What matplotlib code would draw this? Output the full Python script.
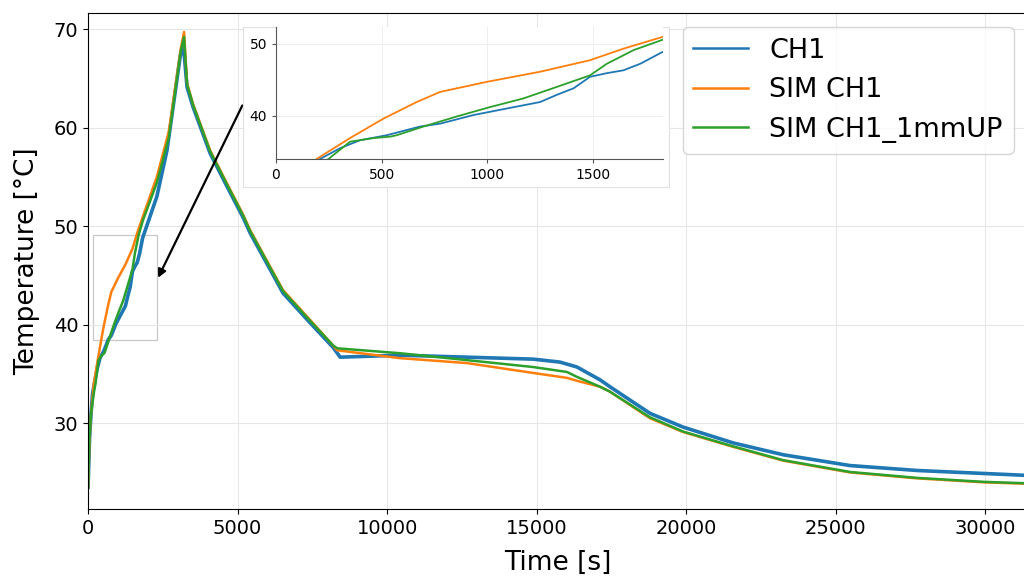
import matplotlib
matplotlib.use("Agg")
import matplotlib.pyplot as plt
from matplotlib.patches import Rectangle

# measured channel CH1
t_ch1 = [0, 50, 100, 150, 208, 303, 397, 524, 681, 776, 934, 1091, 1249, 1328,
         1407, 1485, 1564, 1643, 1722, 1825, 2300, 2640, 3080, 3180, 3310, 3510,
         4080, 4650, 5180, 5420, 6520, 7420, 8190, 8430, 10430, 12670, 14880,
         15780, 16350, 17120, 17450, 18790, 19900, 21570, 23240, 25480, 27720,
         29930, 31400]
T_ch1 = [23.5, 28.5, 31.0, 33.0, 34.0, 35.5, 36.6, 37.3, 38.5, 38.9, 40.1, 41.0,
         41.9, 42.9, 43.8, 45.4, 45.9, 46.3, 47.2, 48.8, 53.0, 57.7, 67.2, 68.6,
         64.1, 62.1, 57.4, 54.0, 50.9, 49.3, 43.2, 40.2, 37.7, 36.7, 36.9, 36.7,
         36.5, 36.2, 35.7, 34.4, 33.7, 31.0, 29.6, 28.0, 26.8, 25.7, 25.2, 24.9,
         24.7]

# simulation at CH1
t_sim = [0, 50, 100, 192, 350, 508, 665, 776, 997, 1249, 1485, 1643, 1825, 2300,
         2700, 3100, 3210, 3310, 3510, 4080, 4650, 5180, 5420, 6520, 7420, 8190,
         8330, 10430, 12670, 14880, 16010, 16350, 17120, 17450, 18790, 19900,
         21570, 23240, 25480, 27720, 29930, 31400]
T_sim = [23.5, 28.5, 31.0, 34.0, 36.9, 39.6, 41.9, 43.3, 44.7, 46.1, 47.7, 49.3,
         50.9, 55.0, 59.6, 68.0, 69.7, 64.5, 62.4, 57.7, 54.3, 51.2, 49.6, 43.5,
         40.5, 37.9, 37.4, 36.6, 36.1, 35.1, 34.6, 34.3, 33.7, 33.2, 30.5, 29.1,
         27.6, 26.2, 25.0, 24.4, 24.0, 23.85]

# simulation 1 mm above CH1
t_up = [0, 50, 100, 200, 248, 350, 460, 540, 571, 697, 855, 1012, 1170, 1328,
        1485, 1564, 1691, 1825, 2300, 2700, 3100, 3210, 3310, 3510, 4080, 4650,
        5180, 5420, 6520, 7420, 8190, 8330, 10430, 12670, 14880, 16010, 16350,
        17120, 17450, 18790, 19900, 21570, 23240, 25480, 27720, 29930, 31400]
T_up = [23.5, 28.5, 31.0, 33.2, 34.0, 36.4, 36.9, 37.1, 37.3, 38.5, 39.9, 41.2,
        42.4, 44.0, 45.6, 47.2, 49.1, 50.5, 54.4, 59.0, 67.8, 69.2, 64.4, 62.3,
        57.6, 54.2, 51.1, 49.5, 43.4, 40.4, 37.9, 37.6, 37.1, 36.4, 35.7, 35.2,
        34.7, 33.7, 33.2, 30.6, 29.15, 27.65, 26.25, 25.05, 24.45, 24.05, 23.9]

labels = ["CH1", "SIM CH1", "SIM CH1_1mmUP"]
colors = ["#1f77b4", "#ff7f0e", "#2ca02c"]

fig = plt.figure(figsize=(10.24, 5.77), dpi=100)
ax = fig.add_axes([0.086, 0.118, 0.917, 0.859])
ax.set_zorder(0)

ax.plot(t_ch1, T_ch1, color=colors[0], lw=2.6, label=labels[0])
ax.plot(t_sim, T_sim, color=colors[1], lw=1.8, label=labels[1])
ax.plot(t_up, T_up, color=colors[2], lw=1.8, label=labels[2])

ax.set_xlim(0, 31400)
ax.set_ylim(21.3, 71.6)
ax.set_xticks([0, 5000, 10000, 15000, 20000, 25000, 30000])
ax.set_yticks([30, 40, 50, 60, 70])
ax.tick_params(labelsize=14)
ax.grid(True, color="#e6e6e6", lw=0.8)
ax.set_xlabel("Time [s]", fontsize=19, labelpad=9)
ax.set_ylabel("Temperature [°C]", fontsize=19, labelpad=10)
leg = ax.legend(loc="upper right", fontsize=19.5)
for line in leg.get_lines():
    line.set_linewidth(1.8)

# region shown enlarged in the inset
ax.add_patch(Rectangle((170, 38.4), 2140, 10.7, fill=False, edgecolor="#c8c8c8", lw=0.9))
ax.annotate("", xy=(2300, 44.5), xytext=(5200, 62.5),
            arrowprops=dict(arrowstyle="-|>", color="black", lw=1.6, mutation_scale=12))

# light frame behind the inset
fig.patches.append(Rectangle((0.237, 0.676), 0.416, 0.277, transform=fig.transFigure,
                             facecolor="white", edgecolor="#e0e0e0", lw=0.8, zorder=1))

axin = fig.add_axes([0.2695, 0.7244, 0.378, 0.2288])
axin.set_zorder(2)
axin.plot(t_ch1, T_ch1, color=colors[0], lw=1.3)
axin.plot(t_sim, T_sim, color=colors[1], lw=1.3)
axin.plot(t_up, T_up, color=colors[2], lw=1.3)
axin.set_xlim(0, 1830)
axin.set_ylim(34.0, 52.3)
axin.set_xticks([0, 500, 1000, 1500])
axin.set_yticks([40, 50])
axin.tick_params(labelsize=10, length=3, color="#555555")
axin.grid(True, color="#eeeeee", lw=0.7)
for side in ["top", "right"]:
    axin.spines[side].set_visible(False)
for side in ["left", "bottom"]:
    axin.spines[side].set_color("#555555")

fig.savefig("out.png", dpi=100)
